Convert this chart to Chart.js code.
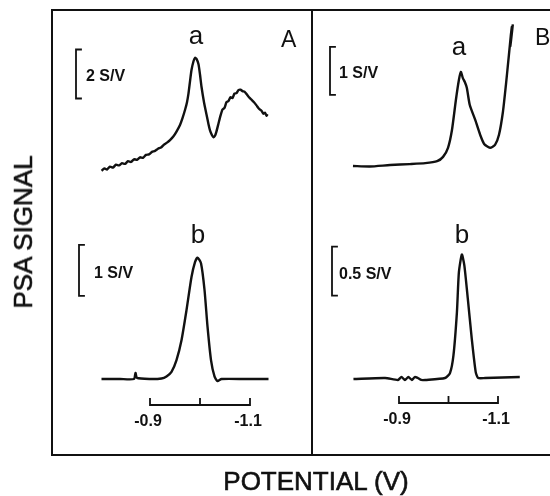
<!DOCTYPE html>
<html>
<head>
<meta charset="utf-8">
<script src="https://cdn.jsdelivr.net/npm/chart.js@4.4.1/dist/chart.umd.min.js"></script>
<style>
  body { margin: 0; background: #fff; }
  #wrap { position: relative; width: 550px; height: 496px; overflow: hidden; }
  #wrap canvas { position: absolute; left: 0; top: 0; }
  .title {
    position: absolute;
    font-family: "Liberation Sans", Arial, sans-serif;
    font-size: 26px;
    line-height: 26px;
    color: #111;
    -webkit-text-stroke: 0.6px #111;
    white-space: nowrap;
  }
  #ylabel { left: 23px; top: 232px; transform: translate(-50%, -50%) rotate(-90deg); }
  #xlabel { left: 316px; top: 481px; transform: translate(-50%, -50%); }
</style>
</head>
<body>
<div id="wrap">
  <canvas id="psaChart" width="550" height="496"></canvas>
  <div class="title" id="ylabel">PSA SIGNAL</div>
  <div class="title" id="xlabel">POTENTIAL (V)</div>
</div>
<script>
// panel A, trace a (S/V vs potential)
const potA_a = [-0.803, -0.809, -0.814, -0.820, -0.826, -0.832, -0.838, -0.844, -0.850, -0.856,
  -0.862, -0.868, -0.874, -0.880, -0.886, -0.892, -0.898, -0.904, -0.910, -0.916,
  -0.922, -0.928, -0.934, -0.940, -0.947, -0.953, -0.960, -0.965, -0.970, -0.974,
  -0.977, -0.980, -0.983, -0.987, -0.990, -0.993, -0.997, -1.000, -1.003, -1.008,
  -1.013, -1.017, -1.020, -1.024, -1.027, -1.030, -1.033, -1.037, -1.041, -1.045,
  -1.049, -1.053, -1.057, -1.061, -1.065, -1.069, -1.073, -1.077, -1.081, -1.085,
  -1.089, -1.093, -1.098, -1.103, -1.108, -1.113, -1.118, -1.123, -1.127, -1.130,
  -1.133, -1.135];
const sigA_a = [0.05, 0.15, 0.10, 0.22, 0.18, 0.30, 0.27, 0.36, 0.33, 0.44,
  0.41, 0.52, 0.50, 0.60, 0.58, 0.70, 0.72, 0.82, 0.86, 0.95,
  1.00, 1.12, 1.20, 1.30, 1.46, 1.65, 1.92, 2.20, 2.53, 2.85,
  3.21, 3.70, 4.16, 4.52, 4.66, 4.62, 4.40, 3.98, 3.48, 2.85,
  2.35, 1.95, 1.70, 1.50, 1.42, 1.48, 1.66, 1.98, 2.30, 2.55,
  2.62, 2.85, 2.90, 3.05, 3.02, 3.20, 3.22, 3.34, 3.36, 3.30,
  3.28, 3.18, 3.05, 2.95, 2.85, 2.72, 2.58, 2.50, 2.38, 2.42,
  2.30, 2.36];

// panel A, trace b
const potA_b = [-0.803, -0.840, -0.868, -0.871, -0.874, -0.900, -0.923, -0.933, -0.943, -0.953,
  -0.963, -0.973, -0.983, -0.990, -0.995, -1.002, -1.009, -1.015, -1.022, -1.029,
  -1.035, -1.043, -1.090, -1.137];
const sigA_b = [0, 0, 0, 0.12, 0.02, 0, 0.01, 0.05, 0.14, 0.37,
  0.76, 1.35, 2.00, 2.29, 2.38, 2.27, 1.75, 1.03, 0.37, 0.05,
  -0.04, 0, 0, 0];

// panel B, trace a
const potB_a = [-0.807, -0.841, -0.882, -0.922, -0.953, -0.977, -0.989, -0.999, -1.007, -1.015,
  -1.021, -1.025, -1.029, -1.033, -1.037, -1.043, -1.054, -1.064, -1.072, -1.084,
  -1.094, -1.102, -1.110, -1.116, -1.122, -1.126, -1.128, -1.125, -1.130];
const sigB_a = [0, -0.01, 0.02, 0.04, 0.06, 0.10, 0.19, 0.38, 0.75, 1.38,
  1.79, 1.96, 1.83, 1.75, 1.63, 1.27, 0.96, 0.65, 0.46, 0.38,
  0.44, 0.65, 1.13, 1.69, 2.31, 2.73, 2.90, 2.50, 2.95];

// panel B, trace b
const potB_b = [-0.808, -0.872, -0.898, -0.905, -0.912, -0.919, -0.926, -0.932, -0.938, -0.945,
  -0.953, -0.993, -1.003, -1.010, -1.017, -1.021, -1.027, -1.032, -1.039, -1.047,
  -1.055, -1.060, -1.074, -1.144];
const sigB_b = [-0.01, 0, -0.02, 0.01, -0.02, 0.01, -0.02, 0.01, 0.0, -0.02,
  -0.02, 0, 0.05, 0.23, 0.67, 1.08, 1.26, 1.15, 0.81, 0.40,
  0.06, 0, 0, 0.01];

const traceNames = ["a", "b"];
const panelNames = ["A", "B"];
const scaleBarSizes = [2, 1, 1, 0.5];
const scaleBarLabels = ["2 S/V", "1 S/V", "1 S/V", "0.5 S/V"];
const potTicks = [-0.9, -1.0, -1.1];
const potTickLabels = ["-0.9", "", "-1.1"];

const W = 550, H = 496;
const FONT = '"Liberation Sans", Arial, sans-serif';

function toPoints(xs, ys) {
  return xs.map((x, i) => ({ x: x, y: ys[i] }));
}

// potential axis: value refV sits at pixel refPx, right = more negative
function xRange(refV, refPx, pxPerV) {
  const max = refV + refPx / pxPerV;
  return { min: max - W / pxPerV, max: max };
}

// signal axis: zero at pixel zeroPx
function yRange(zeroPx, pxPerUnit) {
  return { min: -(H - zeroPx) / pxPerUnit, max: zeroPx / pxPerUnit };
}

const panelDecor = {
  id: "panelDecor",
  afterDatasetsDraw(chart, args, opts) {
    const ctx = chart.ctx;
    ctx.save();
    ctx.strokeStyle = "#111";
    ctx.fillStyle = "#111";
    ctx.lineCap = "square";

    // frame
    ctx.lineWidth = 2;
    ctx.beginPath();
    ctx.moveTo(W + 5, 10);
    ctx.lineTo(52, 10);
    ctx.lineTo(52, 455);
    ctx.lineTo(W + 5, 455);
    ctx.moveTo(312, 10);
    ctx.lineTo(312, 455);
    ctx.stroke();

    opts.panels.forEach((p, pi) => {
      const xs = chart.scales[p.xAxis];

      // panel letter
      ctx.font = "23px " + FONT;
      ctx.textAlign = "left";
      ctx.textBaseline = "alphabetic";
      ctx.fillText(panelNames[pi], p.letter[0], p.letter[1]);

      p.traces.forEach((t, ti) => {
        const ys = chart.scales[t.yAxis];
        const k = pi * 2 + ti;

        ctx.font = "26px " + FONT;
        ctx.textAlign = "center";
        ctx.fillText(traceNames[ti], t.label[0], t.label[1]);

        // S/V scale bracket
        const yTop = ys.getPixelForValue(t.barBase + scaleBarSizes[k]);
        const yBot = ys.getPixelForValue(t.barBase);
        ctx.lineWidth = 1.8;
        ctx.beginPath();
        ctx.moveTo(t.barX + 5, yTop);
        ctx.lineTo(t.barX, yTop);
        ctx.lineTo(t.barX, yBot);
        ctx.lineTo(t.barX + 5, yBot);
        ctx.stroke();
        ctx.font = "bold 16px " + FONT;
        ctx.textAlign = "left";
        ctx.textBaseline = "middle";
        ctx.fillText(scaleBarLabels[k], t.textX, (yTop + yBot) / 2 + 3);
        ctx.textBaseline = "alphabetic";
      });

      // potential scale bar
      const x0 = xs.getPixelForValue(potTicks[0]);
      const x1 = xs.getPixelForValue(potTicks[potTicks.length - 1]);
      ctx.lineWidth = 1.8;
      ctx.beginPath();
      ctx.moveTo(x0, p.axisY);
      ctx.lineTo(x1, p.axisY);
      potTicks.forEach(v => {
        const px = xs.getPixelForValue(v);
        ctx.moveTo(px, p.axisY);
        ctx.lineTo(px, p.axisY - 6);
      });
      ctx.stroke();
      ctx.font = "bold 16px " + FONT;
      ctx.textAlign = "center";
      ctx.textBaseline = "middle";
      potTicks.forEach((v, i) => {
        if (potTickLabels[i]) {
          ctx.fillText(potTickLabels[i], xs.getPixelForValue(v) - 2, p.axisY + 17);
        }
      });
    });
    ctx.restore();
  }
};

const lineStyle = {
  borderColor: "#111",
  borderWidth: 2.4,
  pointRadius: 0,
  tension: 0.2,
  fill: false
};

const ctxEl = document.getElementById("psaChart");
const psaChart = new Chart(ctxEl, {
  type: "line",
  data: {
    datasets: [
      Object.assign({ label: "A a", data: toPoints(potA_a, sigA_a), xAxisID: "xA", yAxisID: "yAa" }, lineStyle),
      Object.assign({ label: "A b", data: toPoints(potA_b, sigA_b), xAxisID: "xA", yAxisID: "yAb" }, lineStyle),
      Object.assign({ label: "B a", data: toPoints(potB_a, sigB_a), xAxisID: "xB", yAxisID: "yBa" }, lineStyle),
      Object.assign({ label: "B b", data: toPoints(potB_b, sigB_b), xAxisID: "xB", yAxisID: "yBb" }, lineStyle)
    ]
  },
  options: {
    responsive: false,
    animation: false,
    layout: { padding: 0 },
    plugins: {
      legend: { display: false },
      tooltip: { enabled: false },
      panelDecor: {
        panels: [
          {
            xAxis: "xA", axisY: 405, letter: [281, 47],
            traces: [
              { yAxis: "yAa", label: [196, 44], barX: 76, barBase: 3.0, textX: 86 },
              { yAxis: "yAb", label: [198, 243], barX: 79, barBase: 1.63, textX: 94 }
            ]
          },
          {
            xAxis: "xB", axisY: 403, letter: [535, 45],
            traces: [
              { yAxis: "yBa", label: [459, 55], barX: 330, barBase: 1.48, textX: 339 },
              { yAxis: "yBb", label: [462, 243], barX: 332, barBase: 0.84, textX: 339 }
            ]
          }
        ]
      }
    },
    scales: {
      xA: Object.assign({ type: "linear", display: false, reverse: true }, xRange(-0.9, 150, 500)),
      xB: Object.assign({ type: "linear", display: false, reverse: true }, xRange(-0.9, 399, 495)),
      yAa: Object.assign({ type: "linear", display: false }, yRange(172, 24.5)),
      yAb: Object.assign({ type: "linear", display: false }, yRange(379, 51)),
      yBa: Object.assign({ type: "linear", display: false }, yRange(166, 48)),
      yBb: Object.assign({ type: "linear", display: false }, yRange(378, 98))
    }
  },
  plugins: [panelDecor]
});
</script>
</body>
</html>
